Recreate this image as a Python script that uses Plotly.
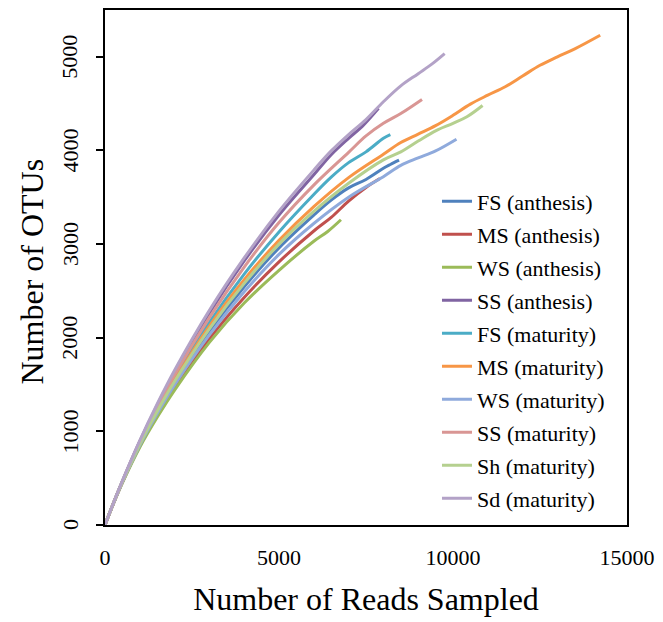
import plotly.graph_objects as go

# rarefaction curves (reads sampled, OTUs)
names = ["FS (anthesis)", "MS (anthesis)", "WS (anthesis)", "SS (anthesis)",
         "FS (maturity)", "MS (maturity)", "WS (maturity)", "SS (maturity)",
         "Sh (maturity)", "Sd (maturity)"]

fs_anth_x = [0, 250, 500, 1000, 1500, 2000, 3000, 4000, 5000, 6000, 6500, 7000, 7500, 8000, 8200, 8450]
fs_anth_y = [0, 238, 460, 860, 1205, 1520, 2070, 2545, 2960, 3310, 3470, 3600, 3690, 3810, 3850, 3896]

ms_anth_x = [0, 250, 500, 1000, 1500, 2000, 3000, 4000, 5000, 6000, 6500, 7000, 7500, 7900]
ms_anth_y = [0, 236, 455, 845, 1175, 1470, 1990, 2430, 2810, 3140, 3285, 3460, 3605, 3700]

ws_anth_x = [0, 250, 500, 1000, 1500, 2000, 3000, 4000, 5000, 6000, 6400, 6780]
ws_anth_y = [0, 235, 450, 830, 1150, 1440, 1950, 2370, 2720, 3030, 3135, 3260]

ss_anth_x = [0, 250, 500, 1000, 1500, 2000, 3000, 4000, 5000, 6000, 6500, 7000, 7400, 7860]
ss_anth_y = [0, 242, 470, 895, 1280, 1635, 2265, 2820, 3310, 3740, 3955, 4130, 4260, 4450]

fs_mat_x = [0, 250, 500, 1000, 1500, 2000, 3000, 4000, 5000, 6000, 6500, 7000, 7500, 8000, 8200]
fs_mat_y = [0, 240, 464, 875, 1240, 1575, 2165, 2680, 3130, 3530, 3715, 3870, 3985, 4130, 4170]

ms_mat_x = [0, 250, 500, 1000, 1500, 2000, 3000, 4000, 5000, 6000, 7000, 8000, 8500, 9000,
            9500, 10000, 10500, 11000, 11500, 12000, 12500, 13000, 13500, 14230]
ms_mat_y = [0, 240, 462, 868, 1225, 1550, 2125, 2620, 3040, 3400, 3710, 3960, 4085, 4175,
            4265, 4375, 4495, 4590, 4680, 4795, 4910, 5000, 5085, 5230]

ws_mat_x = [0, 250, 500, 1000, 1500, 2000, 3000, 4000, 5000, 6000, 7000, 8000, 8500, 9000,
            9500, 10100]
ws_mat_y = [0, 238, 458, 852, 1190, 1495, 2030, 2490, 2890, 3220, 3500, 3720, 3840, 3920,
            3995, 4120]

ss_mat_x = [0, 250, 500, 1000, 1500, 2000, 3000, 4000, 5000, 6000, 7000, 7500, 8000, 8500, 9110]
ss_mat_y = [0, 240, 466, 885, 1260, 1605, 2215, 2755, 3230, 3630, 3980, 4155, 4290, 4395, 4545]

sh_mat_x = [0, 250, 500, 1000, 1500, 2000, 3000, 4000, 5000, 6000, 7000, 8000, 8500, 9000,
            9500, 10000, 10400, 10850]
sh_mat_y = [0, 240, 462, 865, 1215, 1535, 2095, 2580, 3000, 3350, 3650, 3900, 3985, 4100,
            4210, 4290, 4360, 4480]

sd_mat_x = [0, 250, 500, 1000, 1500, 2000, 3000, 4000, 5000, 6000, 6500, 7000, 7500, 8000,
            8500, 9000, 9400, 9760]
sd_mat_y = [0, 242, 472, 902, 1292, 1652, 2292, 2852, 3352, 3790, 3995, 4170, 4330, 4520,
            4690, 4820, 4925, 5035]

x_ticks = [0, 5000, 10000, 15000]
y_ticks = [0, 1000, 2000, 3000, 4000, 5000]

colors = ["#4F81BD", "#C0504D", "#9BBB59", "#8064A2", "#4BACC6",
          "#F79646", "#8FAADC", "#D99694", "#B5D08F", "#B3A2C7"]

series = [(fs_anth_x, fs_anth_y), (ms_anth_x, ms_anth_y), (ws_anth_x, ws_anth_y),
          (ss_anth_x, ss_anth_y), (fs_mat_x, fs_mat_y), (ms_mat_x, ms_mat_y),
          (ws_mat_x, ws_mat_y), (ss_mat_x, ss_mat_y), (sh_mat_x, sh_mat_y),
          (sd_mat_x, sd_mat_y)]

font = "Liberation Serif"

fig = go.Figure()
for i, (xs, ys) in enumerate(series):
    fig.add_trace(go.Scatter(x=xs, y=ys, mode="lines", name=names[i],
                             legendgroup=names[i],
                             line=dict(color=colors[i], width=3, shape="spline")))

# vertical tick labels and title on the y side, placed as annotations
for v in y_ticks:
    fig.add_annotation(x=-0.067, xref="paper", y=v, yref="y", text=str(v),
                       textangle=-90, showarrow=False, xanchor="center", yanchor="middle",
                       font=dict(family=font, size=22, color="black"))
fig.add_annotation(x=-0.139, xref="paper", y=0.493, yref="paper", text="Number of OTUs",
                   textangle=-90, showarrow=False, xanchor="center", yanchor="middle",
                   font=dict(family=font, size=32, color="black"))

fig.update_layout(
    width=663, height=622,
    margin=dict(l=105, r=31, t=8, b=97),
    plot_bgcolor="white", paper_bgcolor="white",
    font=dict(family=font, size=22, color="black"),
    showlegend=True,
    legend=dict(x=0.636, y=0.669, xanchor="left", yanchor="top",
                bgcolor="white", borderwidth=0, tracegroupgap=1.4,
                font=dict(family=font, size=22, color="black")),
)
fig.update_xaxes(range=[0, 15000], tickvals=x_ticks, ticktext=[str(v) for v in x_ticks],
                 tickfont=dict(family=font, size=22, color="black"),
                 ticks="", showgrid=False,
                 zeroline=False, showline=True, linecolor="black", linewidth=2,
                 mirror=True, ticklabelstandoff=12,
                 title=dict(text="Number of Reads Sampled",
                            font=dict(family=font, size=32), standoff=18))
fig.update_yaxes(range=[0, 5500], tickvals=y_ticks, showticklabels=False,
                 ticks="outside", ticklen=7,
                 tickwidth=2, tickcolor="black", showgrid=False,
                 zeroline=False, showline=True, linecolor="black", linewidth=2,
                 mirror=True)

# drop the page's default body margin so the figure sits at the window corner
fig.write_html("out.html", config={"displayModeBar": False},
               post_script="document.body.style.margin='0';document.body.style.overflow='hidden';")
